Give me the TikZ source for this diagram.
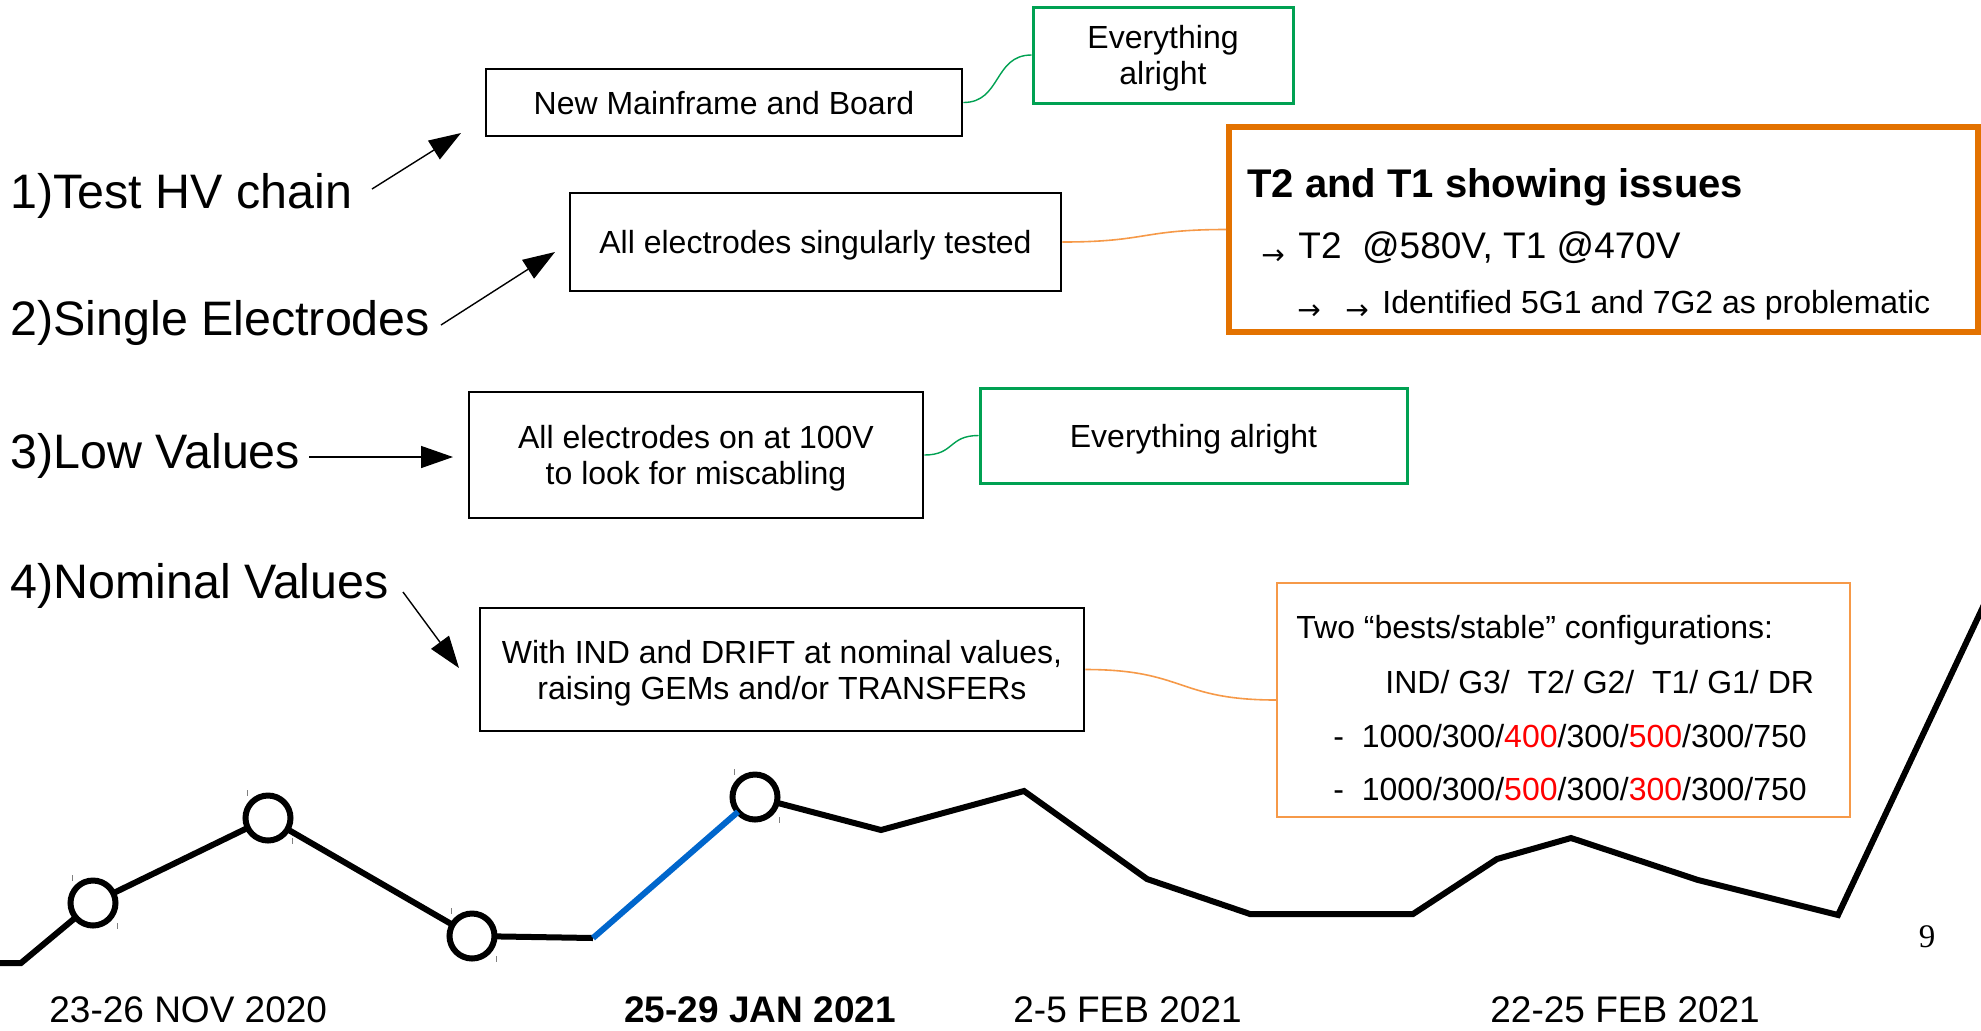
\documentclass[tikz,border=0pt]{standalone}
\usepackage{fontspec}
\setmainfont{Liberation Sans}
\newfontfamily\arrowfont{DejaVu Sans}
\newfontfamily\serifnum{Liberation Serif}
\usetikzlibrary{arrows.meta}
\definecolor{grn}{RGB}{0,161,82}
\definecolor{org}{RGB}{227,114,0}
\definecolor{lorg}{RGB}{246,153,72}
\definecolor{blu}{RGB}{0,102,204}
\definecolor{rd}{RGB}{255,0,0}
\begin{document}
\begin{tikzpicture}[x=0.5pt,y=-0.5pt,
  big/.style={anchor=base west, inner sep=0, font=\fontsize{24.2}{28}\selectfont},
  datetxt/.style={anchor=base west, inner sep=0, font=\fontsize{18.5}{22}\selectfont},
  txt/.style={anchor=base west, inner sep=0, font=\fontsize{16}{18}\selectfont},
  smallarr/.style={anchor=base west, inner sep=0, font=\arrowfont\fontsize{14}{16}\selectfont},
  blackbox/.style={draw=black, line width=1.4pt, align=center, inner sep=0, text depth=0pt, font=\fontsize{16}{18}\selectfont},
  greenbox/.style={draw=grn, line width=1.5pt, align=center, inner sep=0, text depth=0pt, font=\fontsize{16}{18}\selectfont},
  arr/.style={line width=0.7pt, -{Triangle[length=16pt,width=11pt]}},
  gline/.style={draw=grn, line width=0.7pt},
  oline/.style={draw=lorg, line width=0.8pt},
  dot/.style={circle, draw=black, line width=3pt, minimum size=22.5pt, inner sep=0, outer sep=0},
  tl/.style={line width=3pt},
  tickmark/.style={draw=gray, line width=0.5pt}]
\useasboundingbox (0,0) rectangle (1981,1030);
\fill[white] (0,0) rectangle (1981,1030);

% left labels
\node[big] (l1) at (10,208) {1)Test HV chain};
\node[big] (l2) at (10,335) {2)Single Electrodes};
\node[big] (l3) at (10,468) {3)Low Values};
\node[big] (l4) at (10,598) {4)Nominal Values};

% boxes
\node[blackbox, minimum width=238pt, minimum height=33.5pt] (mf) at (724,102.5) {New Mainframe and Board};
\node[blackbox, minimum width=245.5pt, minimum height=49pt] (sg) at (815.5,242) {All electrodes singularly tested};
\node[blackbox, minimum width=227pt, minimum height=63pt] (lw) at (696,455) {All electrodes on at 100V\\to look for miscabling};
\node[blackbox, minimum width=302pt, minimum height=61.5pt] (nm) at (782,669.5) {With IND and DRIFT at nominal values,\\raising GEMs and/or TRANSFERs};
\node[greenbox, minimum width=130pt, minimum height=48pt] (g1) at (1163,55) {Everything\\alright};
\node[greenbox, minimum width=213.5pt, minimum height=47.5pt] (g2) at (1193.5,435.5) {Everything alright};
\node[draw=org, line width=3pt, minimum width=374.5pt, minimum height=102.5pt, inner sep=0] (iss) at (1603.5,229.5) {};
\node[draw=lorg, line width=0.7pt, minimum width=286.5pt, minimum height=117pt, inner sep=0] (cfg) at (1563.5,700) {};

% arrows
\coordinate (a1s) at (372,189); \coordinate (a1e) at (461,133);
\coordinate (a2s) at (441,325); \coordinate (a2e) at (555,252);
\coordinate (a3s) at (309,457); \coordinate (a3e) at (453,457);
\coordinate (a4s) at (403,592); \coordinate (a4e) at (459,668);
\draw[arr] (a1s) -- (a1e);
\draw[arr] (a2s) -- (a2e);
\draw[arr] (a3s) -- (a3e);
\draw[arr] (a4s) -- (a4e);

% connectors
\draw[gline] (mf.east) .. controls +(38,0) and +(-38,0) .. (g1.west);
\draw[oline] (sg.east) .. controls +(85,0) and +(-85,0) .. (iss.west);
\draw[gline] (lw.east) .. controls +(30,0) and +(-30,0) .. (g2.west);
\draw[oline] (nm.east) .. controls +(100,0) and +(-100,0) .. (cfg.west);

% issues text
\node[anchor=base west, inner sep=0, font=\fontsize{20}{22}\selectfont\bfseries] (t1) at (1247,197) {T2 and T1 showing issues};
\node[smallarr] (ar1) at (1261,264) {→};
\node[anchor=base west, inner sep=0, font=\fontsize{18.5}{20}\selectfont] (t2) at (1298,258) {T2\ \ @580V, T1 @470V};
\node[smallarr] (ar2) at (1297,319) {→};
\node[smallarr] (ar3) at (1345,319) {→};
\node[txt] (t3) at (1382,313) {Identified 5G1 and 7G2 as problematic};

% configuration text
\node[txt] (c1t) at (1296,638) {Two “bests/stable” configurations:};
\node[txt] (c2t) at (1385,693) {IND/ G3/\ \ T2/ G2/\ \ T1/ G1/ DR};
\node[txt] (c3t) at (1333,747) {-\ \ 1000/300/\textcolor{rd}{400}/300/\textcolor{rd}{500}/300/750};
\node[txt] (c4t) at (1333,800) {-\ \ 1000/300/\textcolor{rd}{500}/300/\textcolor{rd}{300}/300/750};

% timeline
\coordinate (q0) at (0,963);
\coordinate (q1) at (21,963);
\node[dot] (c1) at (93,903) {};
\node[dot] (c2) at (268,818) {};
\node[dot] (c3) at (472,936) {};
\coordinate (q2) at (593,938);
\node[dot] (c4) at (755,797) {};
\coordinate (q3) at (881,830);
\coordinate (q4) at (1024,791);
\coordinate (q5) at (1147,879);
\coordinate (q6) at (1250,914);
\coordinate (q7) at (1413,914);
\coordinate (q8) at (1497,859);
\coordinate (q9) at (1571,838);
\coordinate (q10) at (1698,880);
\coordinate (q11) at (1838,915);
\coordinate (q12) at (1990,592);
\draw[tl] (q0) -- (q1) -- (c1) -- (c2) -- (c3) -- (q2);
\draw[tl, draw=blu] (q2) -- (c4);
\draw[tl] (c4) -- (q3) -- (q4) -- (q5) -- (q6) -- (q7) -- (q8) -- (q9) -- (q10) -- (q11) -- (q12);
\foreach \c in {c1,c2,c3,c4}{
  \draw[tickmark] ([shift={(-21,-28)}]\c.center) -- ++(0,6);
  \draw[tickmark] ([shift={(24,20)}]\c.center) -- ++(0,6);
}

% dates
\node[datetxt] (d1) at (49,1022) {23-26 NOV 2020};
\node[datetxt, font=\fontsize{18.5}{22}\selectfont\bfseries] (d2) at (624,1022) {25-29 JAN 2021};
\node[datetxt] (d3) at (1013,1022) {2-5 FEB 2021};
\node[datetxt] (d4) at (1490,1022) {22-25 FEB 2021};
\node[anchor=base, inner sep=0, font=\serifnum\fontsize{16.5}{18}\selectfont] (pg) at (1927,947) {9};
\end{tikzpicture}
\end{document}
